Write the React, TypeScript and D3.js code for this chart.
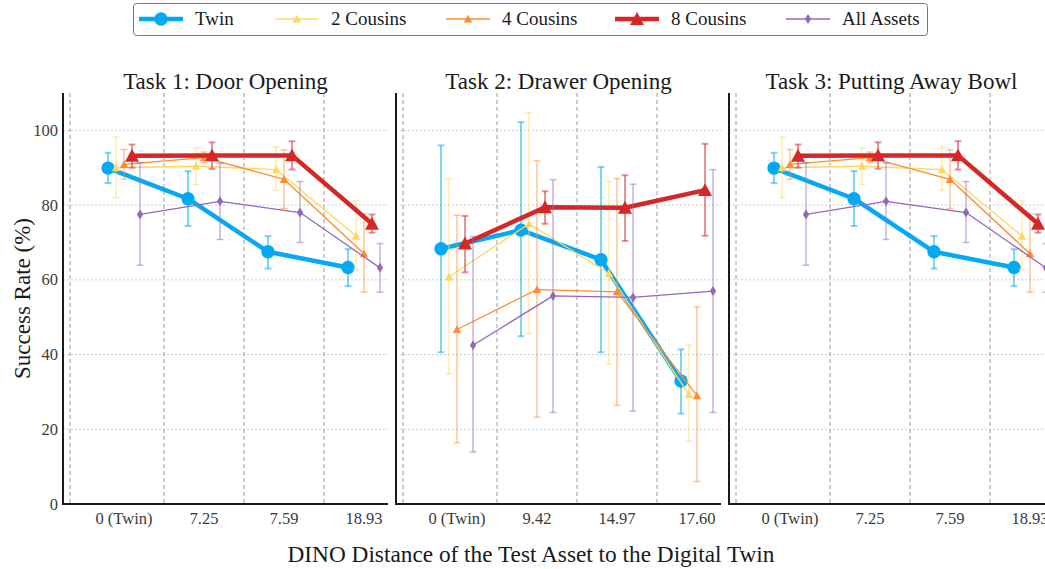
import React from "react";
import * as d3 from "d3";

// ---------- data ----------
const seriesNames = ["Twin", "2 Cousins", "4 Cousins", "8 Cousins", "All Assets"];
const taskTitles = ["Task 1: Door Opening", "Task 2: Drawer Opening", "Task 3: Putting Away Bowl"];
const xTickLabels1 = ["0 (Twin)", "7.25", "7.59", "18.93"];
const xTickLabels2 = ["0 (Twin)", "9.42", "14.97", "17.60"];
const xTickLabels3 = ["0 (Twin)", "7.25", "7.59", "18.93"];
const yTicks = [0, 20, 40, 60, 80, 100];

// Task 1
const t1Twin = [89.9, 81.7, 67.5, 63.3];
const t1TwinLo = [85.9, 74.4, 63.0, 58.3];
const t1TwinHi = [94.0, 89.1, 71.7, 68.2];
const t1C2 = [90.0, 90.4, 89.5, 71.7];
const t1C2Lo = [82.0, 85.5, 84.0, 62.8];
const t1C2Hi = [98.2, 95.3, 95.6, 81.1];
const t1C4 = [90.9, 92.7, 86.9, 67.0];
const t1C4Lo = [86.9, 91.4, 79.1, 56.7];
const t1C4Hi = [94.9, 94.2, 94.8, 77.7];
const t1C8 = [93.2, 93.3, 93.3, 75.0];
const t1C8Lo = [90.0, 89.7, 89.5, 72.6];
const t1C8Hi = [96.2, 96.8, 97.1, 77.5];
const t1All = [77.5, 81.0, 78.0, 63.2];
const t1AllLo = [63.9, 70.8, 70.0, 56.7];
const t1AllHi = [91.3, 91.2, 86.3, 69.7];

// Task 2
const t2Twin = [68.3, 73.3, 65.4, 32.9];
const t2TwinLo = [40.6, 44.9, 40.6, 24.2];
const t2TwinHi = [96.0, 102.2, 90.2, 41.4];
const t2C2 = [60.8, 75.0, 61.7, 29.3];
const t2C2Lo = [34.8, 45.6, 37.4, 16.8];
const t2C2Hi = [87.0, 104.8, 86.4, 42.5];
const t2C4 = [46.7, 57.4, 56.8, 29.0];
const t2C4Lo = [16.4, 23.2, 26.4, 6.0];
const t2C4Hi = [77.3, 91.9, 87.1, 52.8];
const t2C8 = [69.7, 79.4, 79.3, 84.0];
const t2C8Lo = [62.0, 75.0, 70.4, 71.8];
const t2C8Hi = [77.1, 83.7, 88.0, 96.4];
const t2All = [42.5, 55.7, 55.3, 57.0];
const t2AllLo = [13.9, 24.5, 24.9, 24.5];
const t2AllHi = [71.6, 86.8, 85.6, 89.5];

// Task 3
const t3Twin = [89.9, 81.7, 67.5, 63.3];
const t3TwinLo = [85.9, 74.4, 63.0, 58.3];
const t3TwinHi = [94.0, 89.1, 71.7, 68.2];
const t3C2 = [90.0, 90.4, 89.5, 71.7];
const t3C2Lo = [82.0, 85.5, 84.0, 62.8];
const t3C2Hi = [98.2, 95.3, 95.6, 81.1];
const t3C4 = [90.9, 92.7, 86.9, 67.0];
const t3C4Lo = [86.9, 91.4, 79.1, 56.7];
const t3C4Hi = [94.9, 94.2, 94.8, 77.7];
const t3C8 = [93.2, 93.3, 93.3, 75.0];
const t3C8Lo = [90.0, 89.7, 89.5, 72.6];
const t3C8Hi = [96.2, 96.8, 97.1, 77.5];
const t3All = [77.5, 81.0, 78.0, 63.2];
const t3AllLo = [63.9, 70.8, 70.0, 56.7];
const t3AllHi = [91.3, 91.2, 86.3, 69.7];

const gridXPositions = [-0.675, 0.5, 1.5, 2.5];
const seriesOffsets = [-0.2, -0.1, 0, 0.1, 0.2];

// ---------- styles ----------
const colors = ["#04a9f4", "#ffd75e", "#ff8c2e", "#d62728", "#9467bd"];
const lineWidths = [4.5, 1.3, 1.3, 4.5, 1.3];
const markerKinds = ["circle", "tri", "tri", "tri", "diamond"];
const markerSizes = [6.7, 4.2, 4.2, 7, 5];
const FONT = "'Liberation Serif', 'Times New Roman', serif";

const W = 1045, H = 569;
const panelLefts = [63, 396, 729];
const panelW = 325;
const plotTop = 93, plotBottom = 504;

function markerPath(kind: string, s: number) {
  if (kind === "circle") return d3.symbol(d3.symbolCircle, Math.PI * s * s)() as string;
  if (kind === "tri") return `M0,${-s}L${s},${s * 0.85}L${-s},${s * 0.85}Z`;
  return `M0,${-s}L${s * 0.62},0L0,${s}L${-s * 0.62},0Z`;
}

type Task = { title: string; labels: string[]; vals: number[][]; lo: number[][]; hi: number[][] };

const tasks: Task[] = [
  { title: taskTitles[0], labels: xTickLabels1,
    vals: [t1Twin, t1C2, t1C4, t1C8, t1All], lo: [t1TwinLo, t1C2Lo, t1C4Lo, t1C8Lo, t1AllLo], hi: [t1TwinHi, t1C2Hi, t1C4Hi, t1C8Hi, t1AllHi] },
  { title: taskTitles[1], labels: xTickLabels2,
    vals: [t2Twin, t2C2, t2C4, t2C8, t2All], lo: [t2TwinLo, t2C2Lo, t2C4Lo, t2C8Lo, t2AllLo], hi: [t2TwinHi, t2C2Hi, t2C4Hi, t2C8Hi, t2AllHi] },
  { title: taskTitles[2], labels: xTickLabels3,
    vals: [t3Twin, t3C2, t3C4, t3C8, t3All], lo: [t3TwinLo, t3C2Lo, t3C4Lo, t3C8Lo, t3AllLo], hi: [t3TwinHi, t3C2Hi, t3C4Hi, t3C8Hi, t3AllHi] },
];

const y = d3.scaleLinear().domain([0, 110]).range([plotBottom, plotTop]);

function Panel({ task, idx }: { task: Task; idx: number }) {
  const left = panelLefts[idx];
  const x = d3.scaleLinear().domain([-0.7625, 3.3]).range([left, left + panelW]);
  const line = d3.line<[number, number]>().x((d) => d[0]).y((d) => d[1]);
  return (
    <g>
      {/* grid */}
      {yTicks.filter((t) => t > 0).map((t) => (
        <line key={"gy" + t} x1={left} x2={left + panelW} y1={y(t)} y2={y(t)} stroke="#c8c8c8" strokeWidth={0.9} strokeDasharray="2,2" />
      ))}
      {gridXPositions.map((g, i) => (
        <line key={"gx" + i} x1={x(g)} x2={x(g)} y1={plotTop} y2={plotBottom} stroke="#9a9a9a" strokeWidth={1} strokeDasharray="4,3" />
      ))}
      {/* series */}
      {task.vals.map((vals, si) => {
        const pts: [number, number][] = vals.map((v, i) => [x(i + seriesOffsets[si]), y(v)]);
        const cap = 3.4;
        const ew = si === 0 || si === 3 ? 2 : 1.5;
        return (
          <g key={"s" + si}>
            {vals.map((v, i) => {
              const cx = x(i + seriesOffsets[si]);
              const y1 = y(task.hi[si][i]), y2 = y(task.lo[si][i]);
              return (
                <g key={"e" + i} stroke={colors[si]} strokeOpacity={0.5} strokeWidth={ew}>
                  <line x1={cx} x2={cx} y1={y1} y2={y2} />
                  <line x1={cx - cap} x2={cx + cap} y1={y1} y2={y1} />
                  <line x1={cx - cap} x2={cx + cap} y1={y2} y2={y2} />
                </g>
              );
            })}
            <path d={line(pts) as string} fill="none" stroke={colors[si]} strokeWidth={lineWidths[si]} strokeLinejoin="round" />
            {pts.map((p, i) => (
              <path key={"m" + i} transform={`translate(${p[0]},${p[1]})`} d={markerPath(markerKinds[si], markerSizes[si])} fill={colors[si]} />
            ))}
          </g>
        );
      })}
      {/* spines */}
      <line x1={left} x2={left} y1={plotTop} y2={plotBottom + 1} stroke="#1a1a1a" strokeWidth={2} />
      <line x1={left - 1} x2={left + panelW} y1={plotBottom} y2={plotBottom} stroke="#1a1a1a" strokeWidth={2} />
      {/* x tick labels */}
      {task.labels.map((lab, i) => (
        <text key={"xl" + i} x={x(i)} y={524} textAnchor="middle" fontSize={16.5} fill="#3a3a3a" fontFamily={FONT}>{lab}</text>
      ))}
      {/* y tick labels */}
      {idx === 0 && yTicks.map((t) => (
        <text key={"yl" + t} x={left - 5} y={y(t) + 5.5} textAnchor="end" fontSize={16.5} fill="#3a3a3a" fontFamily={FONT}>{t}</text>
      ))}
      <text x={left + panelW / 2} y={89} textAnchor="middle" fontSize={23} fill="#1a1a1a" fontFamily={FONT}>{task.title}</text>
    </g>
  );
}

const legendLineStarts = [139, 275, 446, 615, 786];

export default function App() {
  return (
    <svg width={W} height={H} style={{ position: "absolute", left: 0, top: 0, background: "#fff" }}>
      <rect x={0} y={0} width={W} height={H} fill="#fff" />
      {tasks.map((t, i) => <Panel key={i} task={t} idx={i} />)}
      <text transform={`translate(30,${(plotTop + plotBottom) / 2}) rotate(-90)`} textAnchor="middle" fontSize={23} fill="#1a1a1a" fontFamily={FONT}>Success Rate (%)</text>
      <text x={531} y={562} textAnchor="middle" fontSize={23.3} fill="#1a1a1a" fontFamily={FONT}>DINO Distance of the Test Asset to the Digital Twin</text>
      {/* legend */}
      <rect x={133.5} y={3.5} width={794} height={32} rx={3} fill="#fff" stroke="#777" strokeWidth={1} />
      {seriesNames.map((name, si) => {
        const lx = legendLineStarts[si];
        const cy = 19;
        return (
          <g key={"lg" + si}>
            <line x1={lx} x2={lx + 44} y1={cy} y2={cy} stroke={colors[si]} strokeWidth={lineWidths[si]} />
            <path transform={`translate(${lx + 22},${cy})`} d={markerPath(markerKinds[si], markerSizes[si])} fill={colors[si]} />
            <text x={lx + 56} y={cy + 6} fontSize={19} fill="#1a1a1a" fontFamily={FONT}>{name}</text>
          </g>
        );
      })}
    </svg>
  );
}
